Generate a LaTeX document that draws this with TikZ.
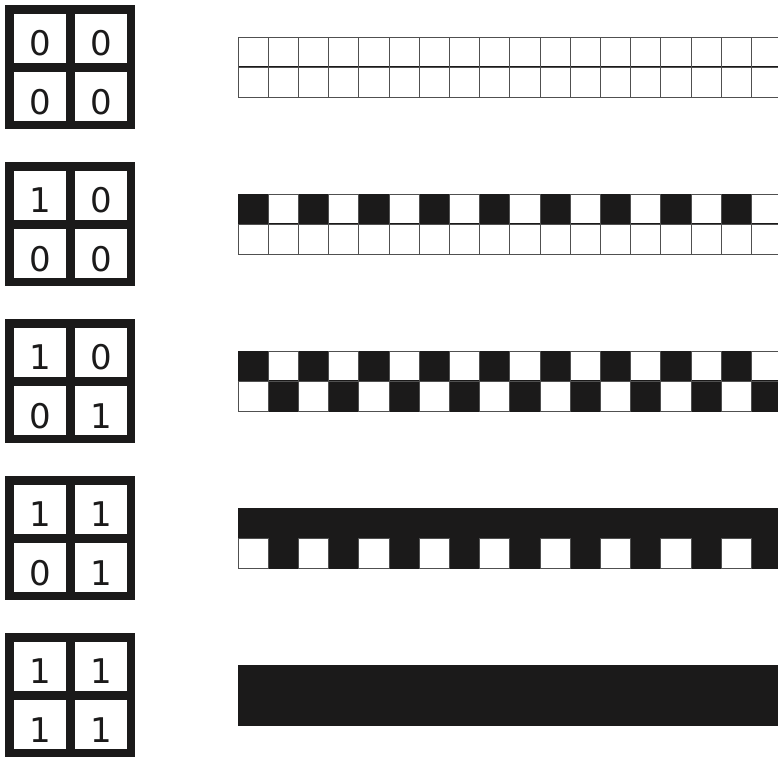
\documentclass[tikz,border=0pt]{standalone}
\usepackage{fontspec}
\newfontfamily\digitfont{DejaVu Sans}
\usetikzlibrary{
    calc,                % For coordinate calculations
    positioning          % For relative placement
}
\definecolor{cellblack}{RGB}{27,26,26}
\definecolor{gridgray}{RGB}{80,80,80}

\begin{document}
\begin{tikzpicture}[
    x=1pt, y=-1pt, % pixel units, y going down
    cellfill0/.style={fill=white},               % empty cell
    cellfill1/.style={fill=cellblack, draw=cellblack, line width=0.6pt}, % set cell
    celledge0/.style={draw=gridgray, line width=1pt}, % edge of an empty cell
    celledge1/.style={},                         % no edge on a set cell
    midline/.style={draw=cellblack, line width=1.8pt},
    boxframe/.style={fill=cellblack},
    boxcell/.style={fill=white},
    digit/.style={font=\digitfont\fontsize{34}{34}\selectfont, inner sep=0pt, text=cellblack}
]

    % Page frame
    \useasboundingbox (0,0) rectangle (778,756);
    \clip (0,0) rectangle (778,756);

    % One row per pattern: strip top, then the 2x2 bits (tl tr bl br)
    \foreach \s/\tl/\tr/\bl/\br in {0/0/0/0/0, 1/1/0/0/0, 2/1/0/0/1, 3/1/1/0/1, 4/1/1/1/1}{
        \pgfmathsetmacro{\top}{37+157*\s}
        \pgfmathsetmacro{\by}{\top-32}

        % Key box on the left
        \fill[boxframe] (5,\by) rectangle ++(130,124);
        \fill[boxcell] (13.5,\by+8.5) rectangle ++(52,49);
        \fill[boxcell] (74.5,\by+8.5) rectangle ++(52,49);
        \fill[boxcell] (13.5,\by+66.5) rectangle ++(52,49);
        \fill[boxcell] (74.5,\by+66.5) rectangle ++(52,49);
        \node[digit] (key\s-tl) at (40,\by+38) {\tl};
        \node[digit] (key\s-tr) at (101,\by+38) {\tr};
        \node[digit] (key\s-bl) at (40,\by+97) {\bl};
        \node[digit] (key\s-br) at (101,\by+97) {\br};

        % Strip: fill the cells
        \foreach \c in {0,2,...,16}{
            \pgfmathsetmacro{\xa}{238+30.2*\c}
            \path[cellfill\tl] (\xa,\top) rectangle ++(30.2,30);
            \path[cellfill\tr] (\xa+30.2,\top) rectangle ++(30.2,30);
            \path[cellfill\bl] (\xa,\top+30) rectangle ++(30.2,30);
            \path[cellfill\br] (\xa+30.2,\top+30) rectangle ++(30.2,30);
        }
        \draw[midline] (238,\top+30) -- (778,\top+30);
        % Strip: edges of the empty cells
        \foreach \c in {0,2,...,16}{
            \pgfmathsetmacro{\xa}{238+30.2*\c}
            \path[celledge\tl] (\xa,\top) rectangle ++(30.2,30);
            \path[celledge\tr] (\xa+30.2,\top) rectangle ++(30.2,30);
            \path[celledge\bl] (\xa,\top+30) rectangle ++(30.2,30);
            \path[celledge\br] (\xa+30.2,\top+30) rectangle ++(30.2,30);
        }
    }

\end{tikzpicture}
\end{document}
